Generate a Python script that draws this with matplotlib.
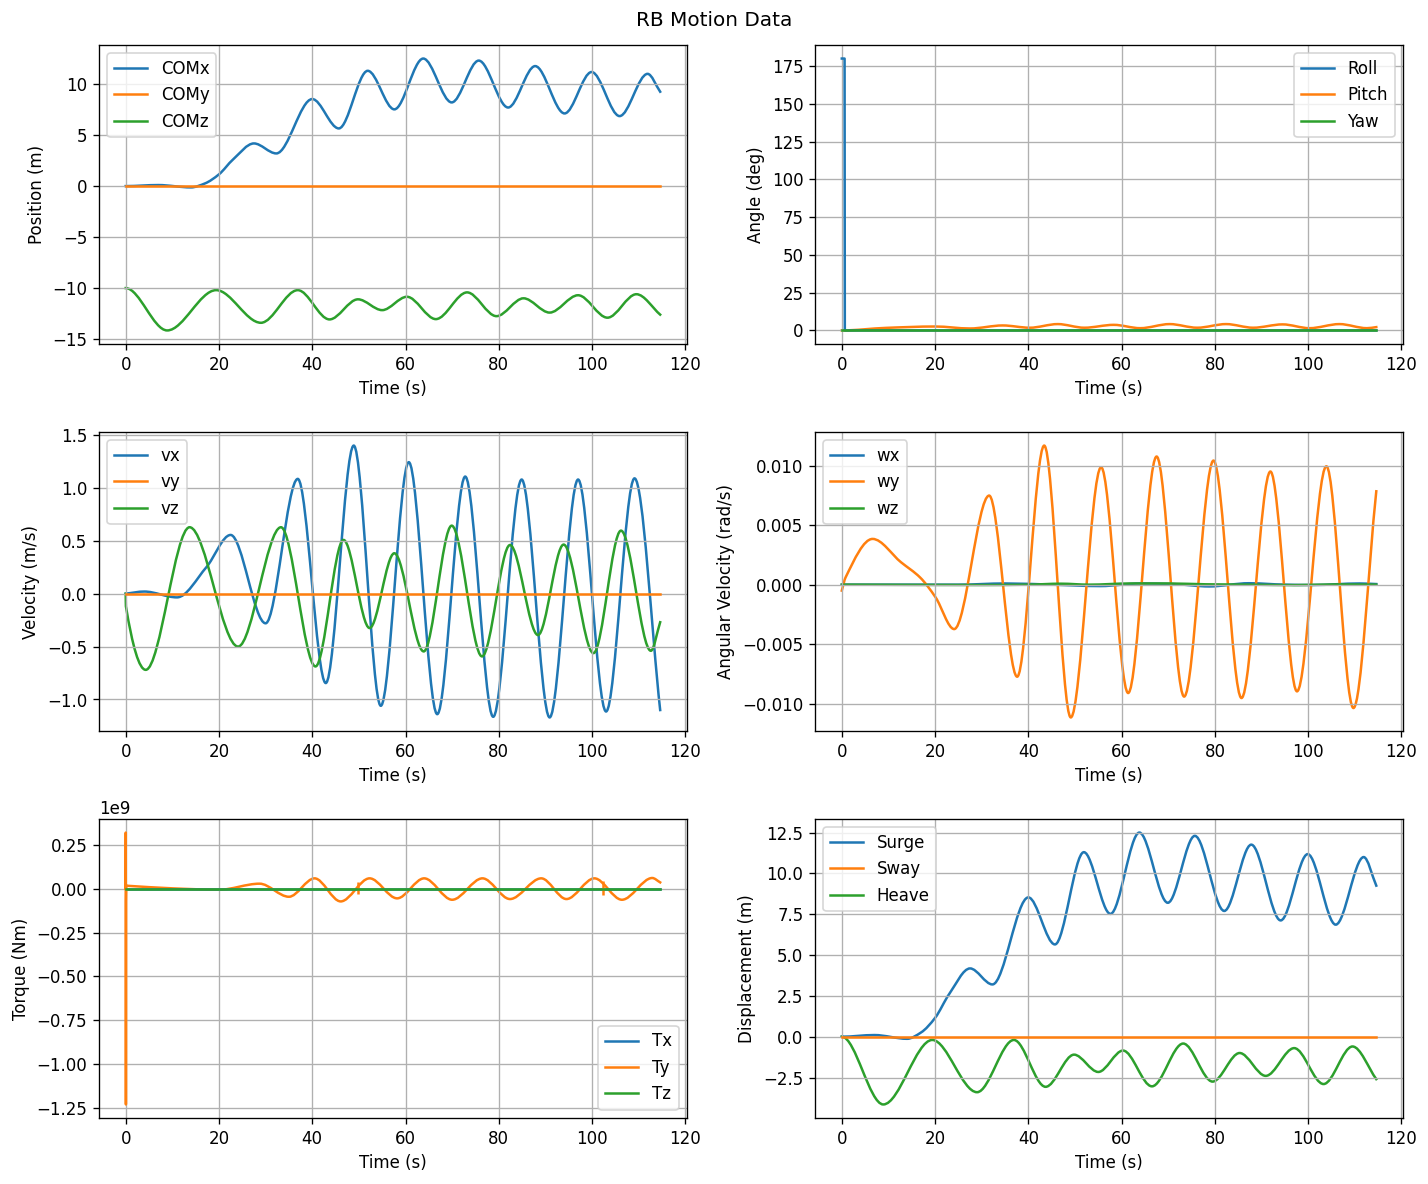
import matplotlib
matplotlib.use("Agg")
import matplotlib.pyplot as plt
import numpy as np
from matplotlib.path import Path
from matplotlib.patches import PathPatch
from matplotlib.lines import Line2D

# values (time in s)
# --- position ---
t_comx = [0, 7, 14, 17, 20, 23, 27.5, 32.3, 40, 45.7, 51.9, 57.6, 63.8, 69.9,
          75.7, 82, 87.8, 94.1, 99.9, 105.9, 111.9, 114.6]
comx = [0, 0.1, -0.13, 0.26, 1.15, 2.6, 4.18, 3.2, 8.53, 5.65, 11.3, 7.52, 12.5, 8.2,
        12.3, 7.7, 11.76, 7.12, 11.18, 6.86, 11.0, 9.25]
t_comy = [0, 114.6]
comy = [0, 0]
t_comz = [0, 8.9, 19.4, 29, 36.9, 43.7, 49.8, 55, 60.3, 66.5, 73.2, 79.5, 85.3,
          90.9, 97, 103.3, 109.5, 114.6]
comz = [-10.0, -14.15, -10.2, -13.4, -10.2, -13.07, -11.1, -12.16, -10.85, -13.04,
        -10.42, -12.75, -11.0, -12.4, -10.7, -12.9, -10.6, -12.6]

# --- angles ---
t_roll = [0, 0.6, 0.65, 114.6]
roll = [180, 180, 0, 0]
t_pitch = [0, 9.5, 20, 27.5, 34.5, 40.3, 46.3, 52, 58.3, 64, 70.3, 76.2, 82.4, 88.2,
           94.5, 100.3, 106.7, 112.6, 114.6]
pitch = [0, 1.7, 2.6, 1.3, 3.3, 1.8, 4.2, 1.8, 3.7, 1.5, 4.2, 1.8, 4.2, 1.8,
         4.0, 1.5, 4.2, 1.5, 2.2]
t_yaw = [0, 114.6]
yaw = [0, 0]

# --- velocity ---
t_vx = [0, 4, 11, 17.3, 22.5, 30, 36.9, 42.9, 48.9, 54.7, 60.7, 66.8, 72.8, 78.8,
        84.9, 90.9, 97, 103, 109.1, 114.6]
vx = [0, 0.02, -0.035, 0.25, 0.555, -0.28, 1.085, -0.845, 1.40, -1.06, 1.243, -1.139,
      1.107, -1.164, 1.079, -1.17, 1.079, -1.114, 1.09, -1.10]
t_vy = [0, 114.6]
vy = [0, 0]
t_vz = [0, 0.05, 4.3, 13.7, 24.1, 33.3, 40.7, 46.7, 52.3, 57.6, 63.9, 69.9, 76.4,
        82.4, 88.4, 93.9, 100.3, 106.2, 112.6, 114.6]
vz = [0, -0.12, -0.72, 0.628, -0.50, 0.628, -0.688, 0.508, -0.325, 0.382, -0.546,
      0.643, -0.593, 0.46, -0.391, 0.464, -0.562, 0.596, -0.54, -0.27]

# --- angular velocity ---
t_wx = [0, 25, 35, 45, 55.5, 64, 71, 78.8, 87.3, 95, 101, 111, 114.6]
wx = [0, 0, 0.0001, 0, -0.00012, 0.0001, 0.00005, -0.00015, 0.00012, 0, -0.00003,
      0.0001, 0.00005]
t_wy = [0, 0.8, 6.6, 12.7, 16.8, 20.1, 24.1, 31.6, 37.6, 43.4, 49.1, 55.6, 61.4,
        67.5, 73.4, 79.7, 85.7, 91.9, 97.6, 103.9, 109.7, 114.6]
wy = [-0.0005, 0.0006, 0.00384, 0.00188, 0.0006, -0.00106, -0.00373, 0.00748,
      -0.00773, 0.01168, -0.01115, 0.00986, -0.0091, 0.01076, -0.0094, 0.01042,
      -0.00952, 0.0095, -0.00896, 0.00994, -0.01036, 0.00784]
t_wz = [0, 30, 40, 47, 53, 62, 70, 78, 88, 97, 106, 114.6]
wz = [0, -0.00003, 0, 0.00008, 0, 0.0001, 0.0001, 0.00003, 0, -0.00004, 0.00002, 0]

# --- torque (x1e9) ---
t_tx = [0, 114.6]
tx = [0, 0]
t_ty_spike = [0, 0.02, 0.05, 0.08, 0.12]
ty_spike = [0, 0.32e9, -1.23e9, -0.07e9, 0.017e9]
t_ty = [0.12, 10, 20, 28.7, 35, 40.5, 46.1, 52.3, 58.2, 64, 70, 76.5, 82.4, 89.1,
        94.5, 100.5, 106.4, 112.9, 114.6]
ty = [0.017e9, 0.002e9, -0.006e9, 0.0286e9, -0.046e9, 0.059e9, -0.0725e9, 0.059e9,
      -0.055e9, 0.059e9, -0.063e9, 0.059e9, -0.059e9, 0.059e9, -0.059e9, 0.059e9,
      -0.063e9, 0.061e9, 0.036e9]
t_ty_glitch = [49.8, 102.4]
ty_glitch_lo = [-0.03e9, -0.036e9]
ty_glitch_hi = [0.04e9, 0.045e9]
t_tz = [0, 114.6]
tz = [0, 0]

# --- displacement ---
t_surge = t_comx
surge = comx
t_sway = [0, 114.6]
sway = [0, 0]
t_heave = t_comz
heave = [0.0, -4.15, -0.2, -3.4, -0.2, -3.07, -1.1, -2.16, -0.85, -3.04, -0.42,
         -2.75, -1.0, -2.4, -0.7, -2.9, -0.6, -2.6]


def smooth(ax, t, v, color, start_slope=None, lw=1.5):
    # draw a smooth curve through the read points (cubic bezier, flat at extrema)
    t = np.asarray(t, float)
    v = np.asarray(v, float)
    n = len(t)
    d = np.diff(v) / np.diff(t)
    m = np.zeros(n)
    for i in range(1, n - 1):
        if d[i - 1] * d[i] > 0:
            m[i] = 2.0 / (1.0 / d[i - 1] + 1.0 / d[i])
    m[0] = d[0] if start_slope is None else start_slope
    m[-1] = d[-1]
    verts = [(t[0], v[0])]
    codes = [Path.MOVETO]
    for i in range(n - 1):
        h = t[i + 1] - t[i]
        verts += [(t[i] + h / 3, v[i] + m[i] * h / 3),
                  (t[i + 1] - h / 3, v[i + 1] - m[i + 1] * h / 3),
                  (t[i + 1], v[i + 1])]
        codes += [Path.CURVE4] * 3
    ax.add_patch(PathPatch(Path(verts, codes), fill=False, edgecolor=color, lw=lw,
                           joinstyle="round", capstyle="projecting"))


def handles(labels):
    return [Line2D([], [], color=f"C{i}", lw=1.5, label=l) for i, l in enumerate(labels)]


fig, axs = plt.subplots(3, 2, figsize=(11.9, 9.867), dpi=120)
fig.suptitle("RB Motion Data", y=0.983, va="center")

# Position
ax = axs[0, 0]
smooth(ax, t_comx, comx, "C0", start_slope=0)
ax.plot(t_comy, comy, color="C1", lw=1.5)
smooth(ax, t_comz, comz, "C2", start_slope=0)
ax.set_ylabel("Position (m)")
ax.legend(handles=handles(["COMx", "COMy", "COMz"]), loc="upper left")

# Angle
ax = axs[0, 1]
ax.plot(t_roll, roll, color="C0", lw=1.5)
smooth(ax, t_pitch, pitch, "C1", start_slope=0)
ax.plot(t_yaw, yaw, color="C2", lw=1.5)
ax.set_ylabel("Angle (deg)")
ax.legend(handles=handles(["Roll", "Pitch", "Yaw"]), loc="upper right")

# Velocity
ax = axs[1, 0]
smooth(ax, t_vx, vx, "C0")
ax.plot(t_vy, vy, color="C1", lw=1.5)
smooth(ax, t_vz, vz, "C2")
ax.set_ylabel("Velocity (m/s)")
ax.legend(handles=handles(["vx", "vy", "vz"]), loc="upper left")

# Angular velocity
ax = axs[1, 1]
smooth(ax, t_wx, wx, "C0")
smooth(ax, t_wy, wy, "C1")
smooth(ax, t_wz, wz, "C2")
ax.set_ylabel("Angular Velocity (rad/s)")
ax.legend(handles=handles(["wx", "wy", "wz"]), loc="upper left")

# Torque
ax = axs[2, 0]
ax.plot(t_tx, tx, color="C0", lw=1.5)
ax.plot(t_ty_spike, ty_spike, color="C1", lw=1.5)
smooth(ax, t_ty, ty, "C1")
ax.vlines(t_ty_glitch, ty_glitch_lo, ty_glitch_hi, color="C1", lw=1.5)
ax.plot(t_tz, tz, color="C2", lw=1.5)
ax.set_ylabel("Torque (Nm)")
ax.legend(handles=handles(["Tx", "Ty", "Tz"]), loc="lower right")

# Displacement
ax = axs[2, 1]
smooth(ax, t_surge, surge, "C0", start_slope=0)
ax.plot(t_sway, sway, color="C1", lw=1.5)
smooth(ax, t_heave, heave, "C2", start_slope=0)
ax.set_ylabel("Displacement (m)")
ax.legend(handles=handles(["Surge", "Sway", "Heave"]), loc="upper left")

for ax in axs.flat:
    ax.autoscale_view()
    ax.set_xlabel("Time (s)")
    ax.grid(True)

fig.subplots_adjust(left=0.0693, right=0.9825, top=0.962, bottom=0.0557,
                    wspace=0.218, hspace=0.294)
plt.savefig("out.png")
